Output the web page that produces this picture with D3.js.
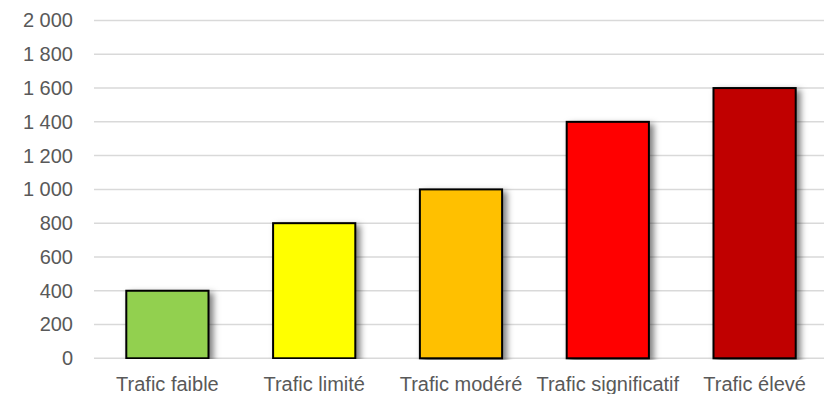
<!DOCTYPE html>
<html>
<head>
<meta charset="utf-8">
<script src="https://cdn.jsdelivr.net/npm/d3@7"></script>
<style>
  html, body { margin: 0; padding: 0; background: #fff; }
  svg { display: block; font-family: "Liberation Sans", Arial, sans-serif; }
</style>
</head>
<body>
<svg id="chart" width="824" height="394"></svg>
<script>
// Traffic levels and their values
const categories = ["Trafic faible", "Trafic limité", "Trafic modéré", "Trafic significatif", "Trafic élevé"];
const values = [400, 800, 1000, 1400, 1600];
const colors = ["#92d050", "#ffff00", "#ffc000", "#ff0000", "#c00000"];
const yTicks = [0, 200, 400, 600, 800, 1000, 1200, 1400, 1600, 1800, 2000];

const svg = d3.select("#chart");

const x = d3.scaleBand()
  .domain(categories)
  .range([94, 828])
  .paddingInner(0.44)
  .paddingOuter(0.22);

const y = d3.scaleLinear()
  .domain([0, 2000])
  .range([358.3, 20.5]);

// Thousands separated by a space
const fmt = v => d3.format(",")(v).replace(/,/g, " ");

// Soft shadow to the right of the bars, cut off at the baseline
const defs = svg.append("defs");
const f = defs.append("filter").attr("id", "shadow")
  .attr("x", "-10%").attr("y", "-10%").attr("width", "140%").attr("height", "110.5%");
f.append("feDropShadow")
  .attr("dx", 4).attr("dy", 3)
  .attr("stdDeviation", 3)
  .attr("flood-color", "#000")
  .attr("flood-opacity", 0.5);

// Horizontal grid lines
svg.append("g")
  .selectAll("line")
  .data(yTicks)
  .join("line")
  .attr("x1", 94).attr("x2", 828)
  .attr("y1", d => y(d)).attr("y2", d => y(d))
  .attr("stroke", "#d9d9d9")
  .attr("stroke-width", 1.5);

// Y axis labels
const yAxis = d3.axisLeft(y).tickValues(yTicks).tickFormat(fmt).tickSize(0).tickPadding(0);
svg.append("g")
  .attr("transform", "translate(73,0)")
  .call(yAxis)
  .call(g => g.select(".domain").remove())
  .call(g => g.selectAll("text")
    .attr("fill", "#595959")
    .attr("font-size", 20)
    .attr("font-family", "'Liberation Sans', Arial, sans-serif"));

// Bars
svg.append("g")
  .selectAll("rect")
  .data(categories)
  .join("rect")
  .attr("x", d => x(d))
  .attr("width", x.bandwidth())
  .attr("y", (d, i) => y(values[i]))
  .attr("height", (d, i) => y(0) - y(values[i]))
  .attr("fill", (d, i) => colors[i])
  .attr("stroke", "#000")
  .attr("stroke-width", 2)
  .attr("filter", "url(#shadow)");

// X axis labels
const xAxis = d3.axisBottom(x).tickSize(0).tickPadding(0);
svg.append("g")
  .attr("transform", "translate(0,375)")
  .call(xAxis)
  .call(g => g.select(".domain").remove())
  .call(g => g.selectAll("text")
    .attr("fill", "#595959")
    .attr("font-size", 20)
    .attr("dy", "0.8em")
    .attr("font-family", "'Liberation Sans', Arial, sans-serif"));
</script>
</body>
</html>
